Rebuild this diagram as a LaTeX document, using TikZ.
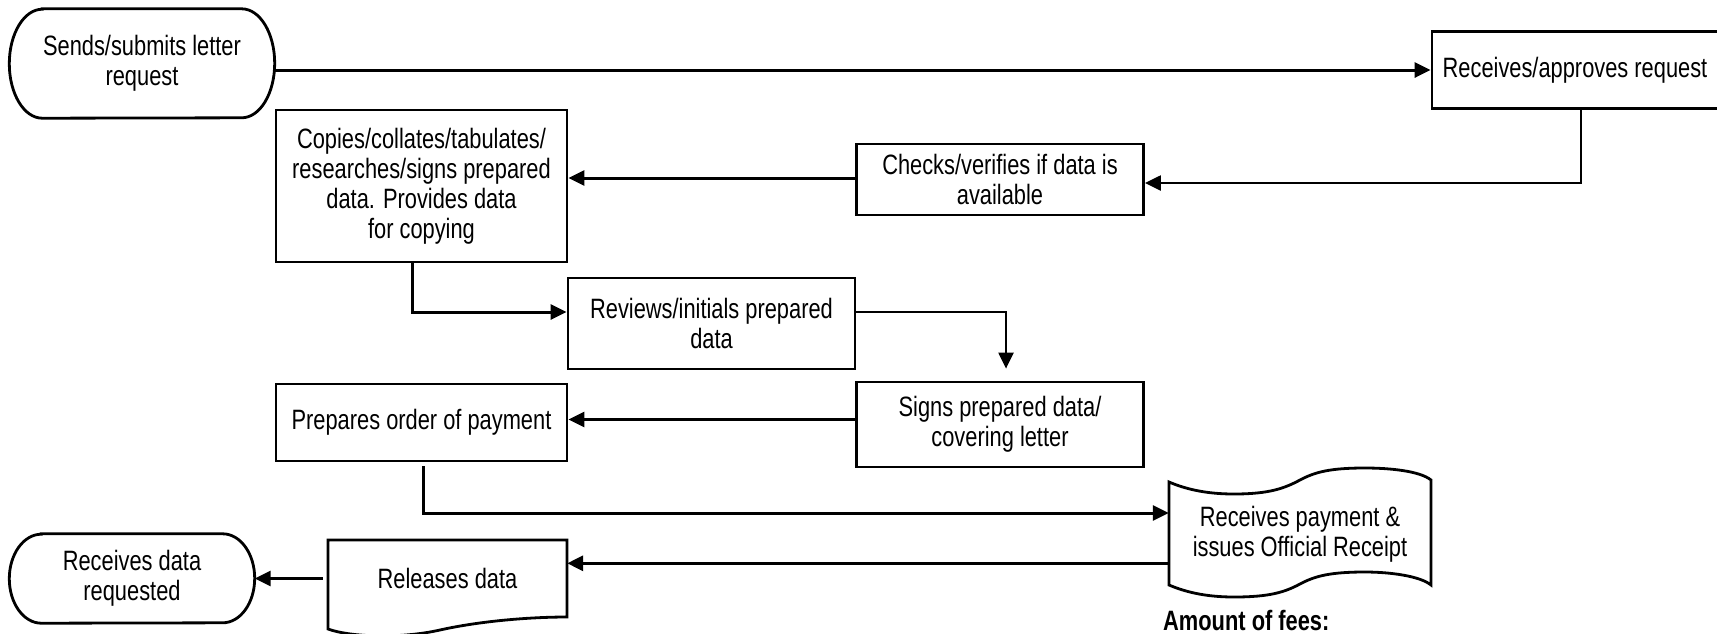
\documentclass[tikz,border=0pt]{standalone}
\usepackage{fontspec}
\setmainfont{Liberation Sans}[FakeStretch=0.78]
\usetikzlibrary{arrows.meta,calc}
\newcommand\diagfont{\fontsize{28}{30}\selectfont}
\tikzset{
  box/.style={draw, line width=2.8pt, rectangle, inner sep=0pt, align=center, font=\diagfont},
  ghost/.style={rectangle, inner sep=0pt, align=center, font=\diagfont},
  outline/.style={line width=2.8pt},
  conn/.style={line width=3pt, -{Triangle[length=16pt,width=15pt]}},
  thinconn/.style={line width=2.3pt, -{Triangle[length=16pt,width=15pt]}},
}
\begin{document}
\begin{tikzpicture}[x=1pt,y=-1pt]
\useasboundingbox (0,0) rectangle (1717,633);
\clip (0,0) rectangle (1717,633);

% nodes
\node[ghost, minimum width=265pt, minimum height=109pt] (start) at (142,63.5) {Sends/submits letter\\request};
\draw[outline] ([xshift=33pt]start.north west) -- ([xshift=-33pt]start.north east)
  arc[start angle=90, end angle=-90, x radius=33pt, y radius=54.5pt]
  -- ([xshift=33pt]start.south west)
  arc[start angle=270, end angle=90, x radius=33pt, y radius=54.5pt] -- cycle;

\node[box, minimum width=286pt, minimum height=77pt] (recv) at (1575,70) {Receives/approves request};
\node[box, minimum width=287pt, minimum height=71pt] (check) at (1000,179.5) {Checks/verifies if data is\\available};
\node[box, minimum width=291pt, minimum height=152pt] (copy) at (421.5,186) {Copies/collates/tabulates/\\researches/signs prepared\\data. Provides data\\for copying};
\node[box, minimum width=287pt, minimum height=91pt] (review) at (711.5,323.5) {Reviews/initials prepared\\data};
\node[box, minimum width=287pt, minimum height=85pt] (sign) at (1000,424.5) {Signs prepared data/\\covering letter};
\node[box, minimum width=291pt, minimum height=77pt] (prep) at (421.5,422.5) {Prepares order of payment};

\node[ghost, minimum width=262pt, minimum height=104pt] (pay) at (1300,534) {Receives payment \&\\issues Official Receipt};
\draw[outline] (1169,482) .. controls (1190,491) and (1212,494) .. (1234,494)
  .. controls (1270,494) and (1285,488) .. (1300,480)
  .. controls (1315,472) and (1330,468) .. (1365,468)
  .. controls (1390,468) and (1420,471) .. (1431,480)
  -- (1431,585)
  .. controls (1420,576) and (1390,572) .. (1365,572)
  .. controls (1330,572) and (1315,576) .. (1300,584)
  .. controls (1285,592) and (1270,597) .. (1234,597)
  .. controls (1212,597) and (1190,594) .. (1169,585) -- cycle;

\node[ghost, minimum width=239pt, minimum height=77pt] (release) at (447.5,578.5) {Releases data};
\draw[outline] (328,540) -- (567,540) -- (567,617)
  .. controls (530,617) and (480,621) .. (440,630)
  .. controls (400,639) and (350,637) .. (328,629) -- cycle;

\node[ghost, minimum width=245pt, minimum height=89pt] (recvd) at (132,578.5) {Receives data\\requested};
\draw[outline] ([xshift=32pt]recvd.north west) -- ([xshift=-32pt]recvd.north east)
  arc[start angle=90, end angle=-90, x radius=32pt, y radius=44.5pt]
  -- ([xshift=32pt]recvd.south west)
  arc[start angle=270, end angle=90, x radius=32pt, y radius=44.5pt] -- cycle;

\node[anchor=base west, inner sep=0pt, font=\diagfont\bfseries] (fees) at (1163,630) {Amount of fees:};

% connectors
\draw[conn] (start.east |- recv.west) -- (recv.west);

\coordinate (c1) at (1581,183);
\draw[thinconn] (recv.south -| c1) -- (c1) -- (c1 -| check.east);

\draw[conn] ([yshift=1.5pt]check.west) -- ([yshift=1.5pt]check.west -| copy.east);

\coordinate (c2) at (412,312);
\draw[conn] (copy.south -| c2) -- (c2) -- (c2 -| review.west);

\coordinate (c3) at (1006,312);
\draw[thinconn, shorten >=12pt] (review.east |- c3) -- (c3) -- (c3 |- sign.north);

\draw[conn] ([yshift=5pt]sign.west) -- ([yshift=5pt]sign.west -| prep.east);

\coordinate (c5) at (423.6,513);
\draw[conn, shorten <=4pt] (prep.south -| c5) -- (c5) -- (c5 -| pay.west);

\coordinate (c6) at (1169,563.3);
\draw[conn] (c6) -- (c6 -| release.east);

\draw[conn, shorten <=5pt] (release.west) -- (recvd.east);
\end{tikzpicture}
\end{document}
